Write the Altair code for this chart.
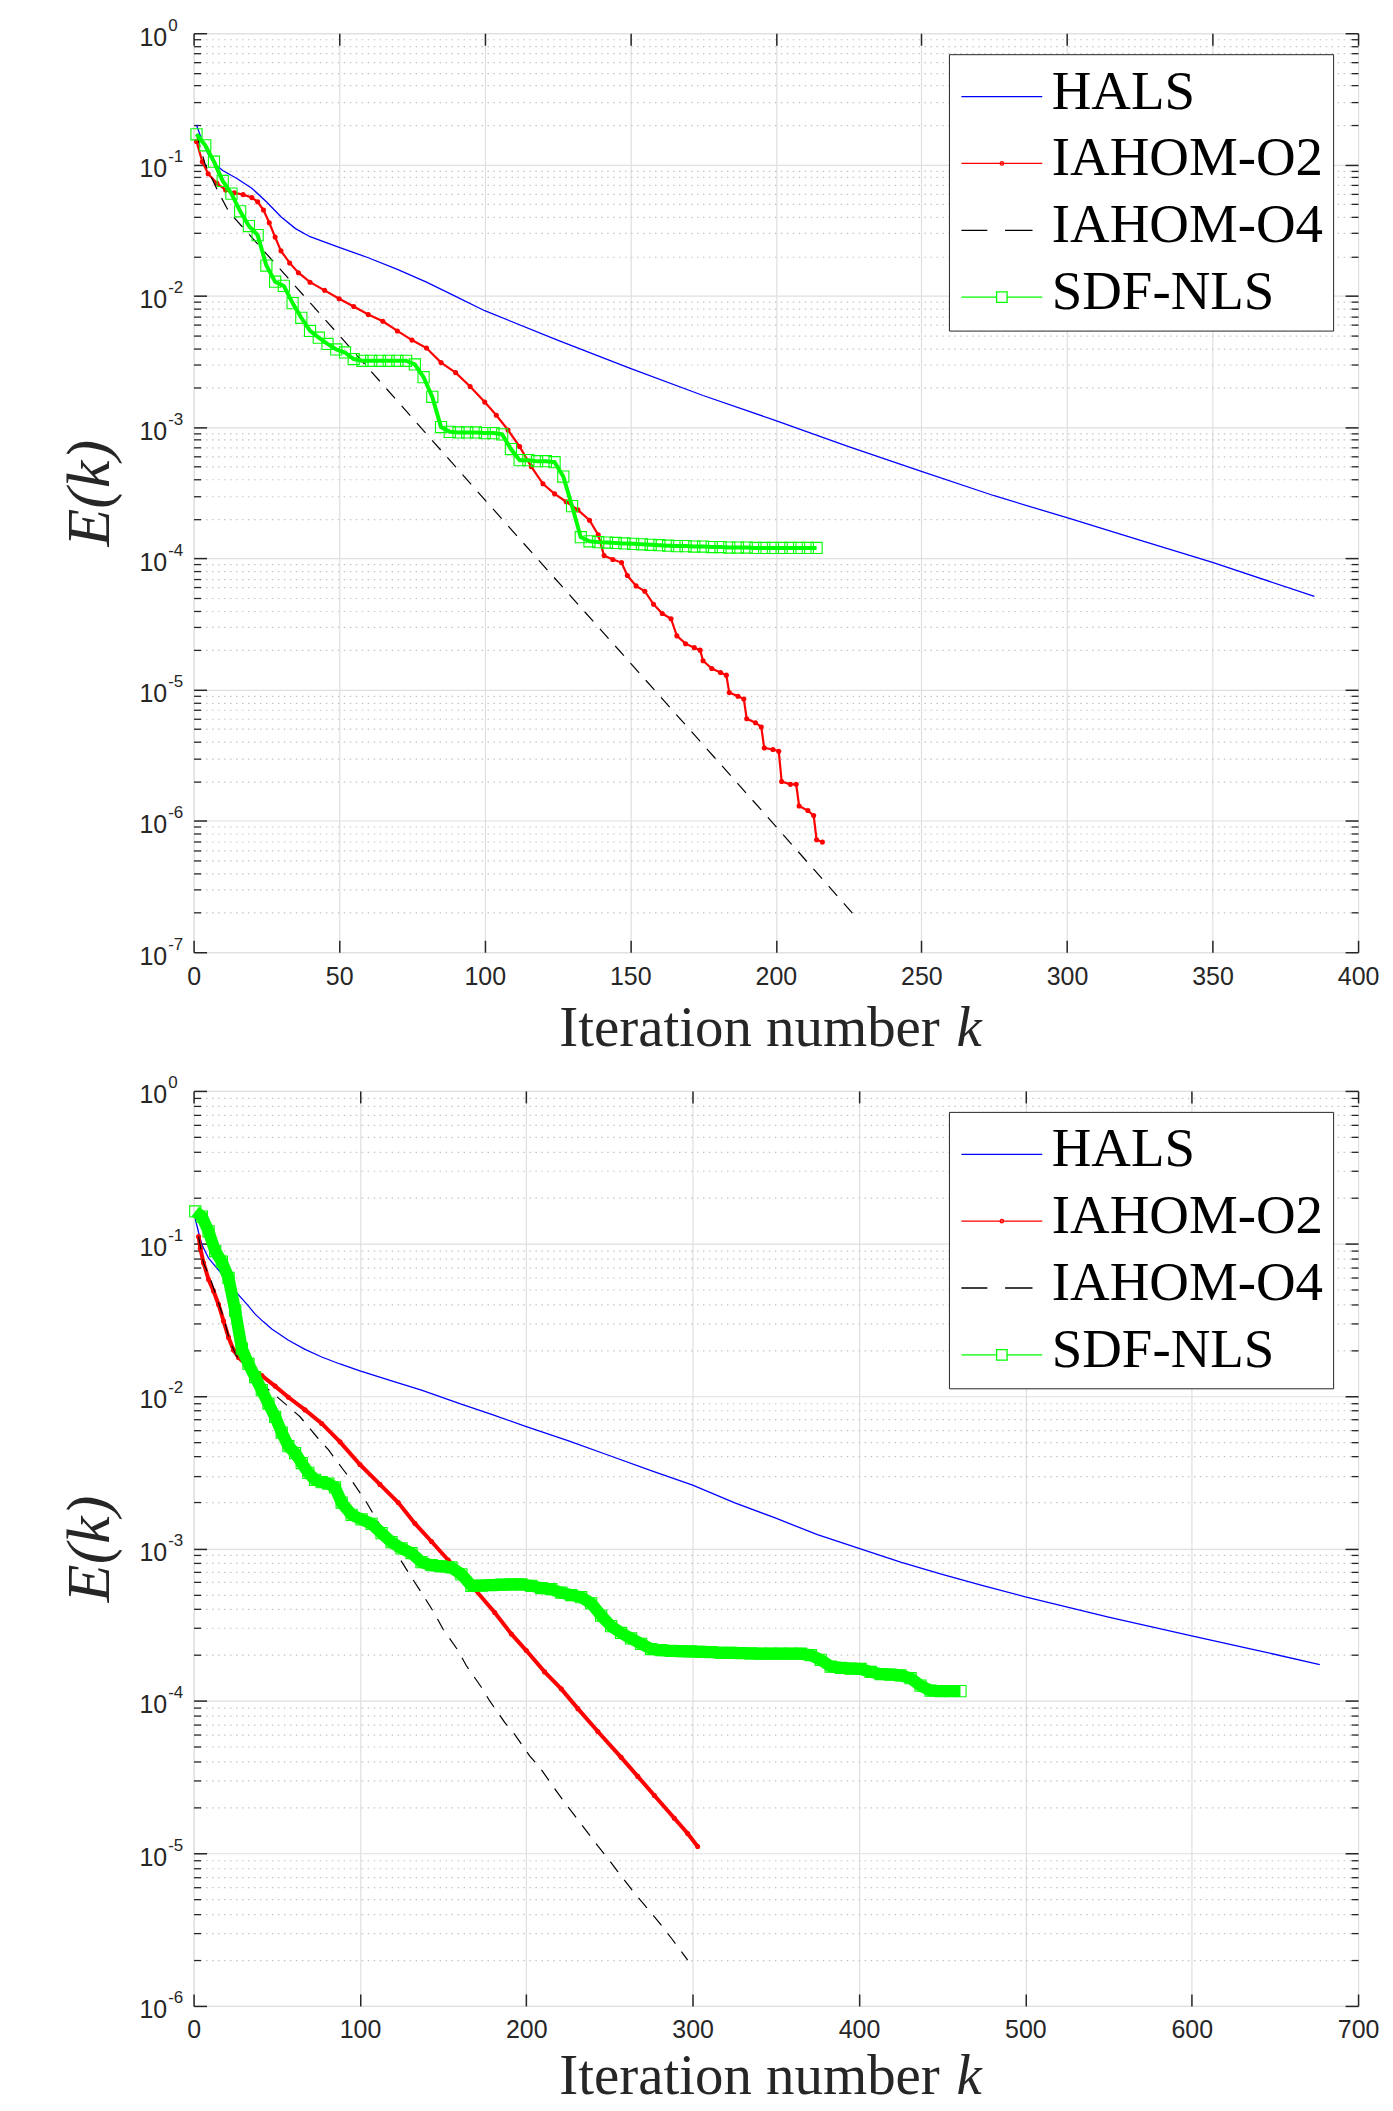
import altair as alt
import pandas as pd

# ---------------- data: top panel ----------------
TOP_HALS_K = [1, 3, 5, 8, 10, 15, 20, 25, 30, 35, 40, 50, 60, 70, 80, 90, 100, 125, 150, 175, 200,
              225, 250, 275, 300, 325, 350, 385]
TOP_HALS_E = [0.20, 0.15, 0.12, 0.098, 0.090, 0.078, 0.066, 0.052, 0.040, 0.0325, 0.0282, 0.0234,
              0.0195, 0.0159, 0.0127, 0.0099, 0.0077, 0.0046, 0.0028, 0.00174, 0.00112, 0.00071,
              0.00046, 0.00030, 0.000204, 0.000138, 0.0000933, 0.0000513]

TOP_O2_K = [1, 3, 5, 8, 11, 14, 17, 20, 22, 24, 26, 28, 30, 33, 36, 40, 45, 50, 55, 60, 65, 70,
            75, 80, 85, 90, 95, 100, 104, 108, 112, 116, 120, 124, 128, 132, 136, 139, 141, 144,
            147, 149, 152, 155, 158, 161, 164, 166, 169, 172, 174, 175, 178, 181, 183, 184, 187,
            189, 190, 193, 195, 196, 199, 201, 202, 205, 207, 208, 211, 213, 214, 216]
TOP_O2_E = [0.15, 0.105, 0.085, 0.072, 0.064, 0.061, 0.059, 0.056, 0.052, 0.045, 0.036, 0.028,
            0.022, 0.0178, 0.0150, 0.0127, 0.0110, 0.0095, 0.0083, 0.0072, 0.0064, 0.0054, 0.0046,
            0.0040, 0.0031, 0.0026, 0.00204, 0.00155, 0.00123, 0.00095, 0.00071, 0.00050, 0.00037,
            0.00031, 0.00027, 0.000234, 0.000195, 0.000151, 0.000105, 0.000098, 0.000093,
            0.000074, 0.0000617, 0.0000562, 0.0000447, 0.000038, 0.0000347, 0.0000257, 0.0000224,
            0.0000209, 0.00002, 0.0000166, 0.0000145, 0.0000135, 0.0000129, 0.0000095, 0.0000089,
            0.0000085, 0.0000060, 0.0000056, 0.0000052, 0.0000036, 0.0000035, 0.0000034,
            0.0000020, 0.0000019, 0.0000019, 0.0000013, 0.0000012, 0.0000011, 7.2e-7, 6.9e-7]

TOP_O4_K = [1, 4, 8, 12, 50, 100, 150, 200, 228]
TOP_O4_E = [0.17, 0.10, 0.065, 0.044, 0.0050, 0.00028, 0.000016, 9.1e-7, 1.8e-7]

TOP_SDF_K = list(range(1, 215, 3))
TOP_SDF_E = [0.170, 0.140, 0.105, 0.075, 0.060, 0.044, 0.034, 0.029, 0.017, 0.0128,
             0.0119, 0.0088, 0.0068, 0.0054, 0.0048, 0.0043, 0.0039, 0.0037, 0.0033, 0.0032,
             0.0032, 0.0032, 0.0032, 0.0032, 0.0032, 0.0030, 0.0024, 0.0017, 0.0010, 0.00092,
             0.00091, 0.00091, 0.00091, 0.00090, 0.00090, 0.00088, 0.00068, 0.00056, 0.00056, 0.00055,
             0.00055, 0.00054, 0.00042, 0.00025, 0.000145, 0.000135, 0.000133, 0.000132, 0.000131, 0.000130,
             0.000129, 0.000128, 0.000127, 0.000126, 0.000125, 0.000124, 0.000124, 0.000123, 0.000123, 0.000122,
             0.000122, 0.000121, 0.000121, 0.000121, 0.000120, 0.000120, 0.000120, 0.000120, 0.000120, 0.000120,
             0.000120, 0.000120]

# ---------------- data: bottom panel ----------------
BOT_HALS_K = [1, 3, 5, 9, 13, 17, 22, 27, 32, 37, 42, 47, 57, 67, 77, 88, 100, 120, 137, 160,
              180, 200, 225, 249, 275, 300, 325, 350, 375, 400, 425, 450, 475, 500, 550, 600, 640, 677]
BOT_HALS_E = [0.145, 0.118, 0.098, 0.080, 0.071, 0.063, 0.054, 0.046, 0.040, 0.0344,
              0.0306, 0.0275, 0.0232, 0.0202, 0.0180, 0.0162, 0.0146, 0.01245, 0.0109, 0.0089,
              0.0075, 0.0063, 0.0051, 0.0041, 0.00324, 0.0026, 0.0020, 0.00158, 0.00123, 0.0010,
              0.000813, 0.000676, 0.000569, 0.000481, 0.000355, 0.000267, 0.000214, 0.000173]

BOT_O2_K = [3, 4, 6, 9, 12, 15, 18, 21, 24, 27, 33, 41, 49, 57, 67, 77, 88, 100, 112, 123,
            133, 143, 153, 161, 169, 181, 191, 200, 211, 221, 231, 243, 257, 267, 277, 289, 297, 303]
BOT_O2_E = [0.111, 0.093, 0.0745, 0.058, 0.0488, 0.0398, 0.031, 0.0242, 0.020, 0.0179,
            0.0155, 0.0136, 0.0116, 0.0098, 0.0081, 0.0066, 0.0050, 0.00355, 0.00263, 0.0020,
            0.00146, 0.00111, 0.00084, 0.00068, 0.00054, 0.00038, 0.000275, 0.000214, 0.000155, 0.00012,
            0.000089, 0.000063, 0.0000427, 0.000032, 0.000024, 0.000017, 0.0000135, 0.0000111]

BOT_O4_K = [3, 6, 10, 14, 18, 22, 26, 30, 36, 43, 56, 64, 74, 81, 90, 96, 104, 123, 131, 137,
            145, 150, 159, 164, 173, 178, 187, 193, 202, 209, 218, 224, 243, 249, 255, 265, 271, 281, 287, 297]
BOT_O4_E = [0.111, 0.074, 0.0594, 0.0437, 0.0327, 0.0224, 0.0182, 0.0158, 0.0135, 0.0115,
            0.0087, 0.0073, 0.0054, 0.00444, 0.00328, 0.00269, 0.0020, 0.00089, 0.000646, 0.000513,
            0.000372, 0.000295, 0.000214, 0.00017, 0.000123, 0.0001, 0.0000724, 0.0000603, 0.0000437, 0.0000355,
            0.0000257, 0.0000209, 0.0000112, 0.0000093, 0.0000076, 0.0000055, 0.0000046, 0.0000034, 0.0000028, 0.0000020]

BOT_SDF_K = list(range(1, 90, 4)) + list(range(95, 462, 6))
BOT_SDF_E = [0.162, 0.150, 0.120, 0.0891, 0.0759, 0.0594, 0.0363, 0.0204, 0.0162, 0.0133,
             0.0109, 0.00891, 0.00730, 0.00575, 0.00468, 0.00422, 0.00363, 0.00313, 0.00282, 0.00272,
             0.00266, 0.00251, 0.00200,
             0.00166, 0.00155, 0.00145, 0.00126, 0.00110, 0.00100, 0.000933, 0.000813, 0.000776, 0.000764,
             0.000750, 0.000676, 0.000569, 0.000571, 0.000575, 0.000578, 0.000581, 0.000581, 0.000569, 0.000550,
             0.000540, 0.000513, 0.000495, 0.000479, 0.000437, 0.000363, 0.000309, 0.000279, 0.000257, 0.000237,
             0.000219, 0.000215, 0.000213, 0.000212, 0.000211, 0.000210, 0.000209, 0.000207, 0.000207, 0.000206,
             0.000205, 0.000204, 0.000204, 0.000204, 0.000204, 0.000204, 0.000200, 0.000186, 0.000168, 0.000165,
             0.000163, 0.000162, 0.000155, 0.000150, 0.000149, 0.000147, 0.000141, 0.000126, 0.000117, 0.000116,
             0.000116, 0.000116]

SERIES = ["HALS", "IAHOM-O2", "IAHOM-O4", "SDF-NLS"]
COLORS = ["#0000ff", "#ff0000", "#000000", "#00ff00"]
# legend samples (custom symbol paths: line + marker)
LEGEND_PATHS = [
    "M-1,0.2L2.24,0.2",
    "M-1,0.2L2.24,0.2M0.69,0.2A0.07,0.07,0,1,1,0.55,0.2A0.07,0.07,0,1,1,0.69,0.2",
    "M-1,0.2L0.04,0.2M0.75,0.2L1.85,0.2",
    "M-1,0.2L0.41,0.2M0.83,0.2L2.24,0.2M0.41,-0.01L0.83,-0.01L0.83,0.41L0.41,0.41Z",
]

# ---------------- style ----------------
W = 1167
AX = "#262626"
TICK_FONT = "Liberation Sans"
TEXT_FONT = "Liberation Serif"
MAJOR_GRID = "#dfdfdf"
MINOR_GRID = "#c4c4c4"


def df(k, e):
    return pd.DataFrame({"k": k, "E": e})


def panel(hals, o2, o4, sdf, xmax, xstep, emin, height, red_width, sdf_band, title_y):
    xticks = list(range(0, xmax + 1, xstep))
    decades = [10.0 ** e for e in range(emin, 1)]
    minor = [m * 10.0 ** e for e in range(emin, 0) for m in range(2, 10)]
    xs = alt.Scale(domain=[0, xmax], nice=False, zero=False)
    ys = alt.Scale(type="log", domain=[10.0 ** emin, 1], nice=False)

    common_lab = dict(labelFont=TICK_FONT, labelFontSize=25, labelColor=AX, labelOverlap=False,
                      labelFlush=False)
    # x axes
    ax_x_main = alt.Axis(orient="bottom", values=xticks, grid=True, gridColor=MAJOR_GRID, gridWidth=1.2,
                         domain=False, ticks=False, labelPadding=12, format="d", **common_lab,
                         title="Iteration number", titleFont=TEXT_FONT, titleFontSize=57,
                         titleFontWeight="normal", titleColor=AX, titleAlign="left",
                         titleBaseline="alphabetic", titleX=366, titleY=title_y)
    ax_x_ticks = alt.Axis(orient="bottom", values=xticks, grid=False, domain=False, labels=False,
                          ticks=True, tickSize=12, tickColor=AX, tickWidth=1.5, offset=-12,
                          title="k", titleFont=TEXT_FONT, titleFontSize=57, titleFontStyle="italic",
                          titleFontWeight="normal", titleColor=AX, titleAlign="left",
                          titleBaseline="alphabetic", titleX=764, titleY=title_y + 12)
    ax_x_top = alt.Axis(orient="top", values=xticks, grid=False, domain=False, labels=False,
                        ticks=True, tickSize=12, tickColor=AX, tickWidth=1.5, offset=-12, title=None)
    # y axes
    ax_y_base = alt.Axis(orient="left", values=decades, grid=True, gridColor=MAJOR_GRID, gridWidth=1.2,
                         domain=False, ticks=False, labelExpr="'10'", labelPadding=27,
                         labelAlign="right", labelBaseline="middle", labelOffset=4, **common_lab,
                         title="E(k)", titleFont=TEXT_FONT, titleFontSize=62, titleFontStyle="italic",
                         titleFontWeight="normal", titleColor=AX, titleAngle=270, titleX=-104,
                         titleY=height / 2, titleAlign="center", titleBaseline="middle")
    ax_y_exp = alt.Axis(orient="left", values=decades, grid=False, domain=False, ticks=False,
                        labelExpr="'' + round(log(datum.value) / LN10)", labelPadding=26,
                        labelAlign="left", labelBaseline="middle", labelOffset=-8,
                        labelFont=TICK_FONT, labelFontSize=17, labelColor=AX, labelOverlap=False,
                        labelFlush=False, title=None)
    ax_y_lmaj = alt.Axis(orient="left", values=decades, grid=False, domain=False, labels=False,
                         ticks=True, tickSize=13, tickColor=AX, tickWidth=1.5, offset=-13, title=None)
    ax_y_lmin = alt.Axis(orient="left", values=minor, grid=False, domain=False, labels=False,
                         ticks=True, tickSize=7, tickColor=AX, tickWidth=1.3, offset=-7, title=None)
    ax_y_rmaj = alt.Axis(orient="right", values=decades, grid=False, domain=False, labels=False,
                         ticks=True, tickSize=13, tickColor=AX, tickWidth=1.5, offset=-13, title=None)
    ax_y_rmin = alt.Axis(orient="right", values=minor, grid=False, domain=False, labels=False,
                         ticks=True, tickSize=7, tickColor=AX, tickWidth=1.3, offset=-7, title=None)
    ax_y_mgrid = alt.Axis(orient="left", values=minor, grid=True, gridColor=MINOR_GRID, gridWidth=1.2,
                          gridDash=[1.5, 4.5], domain=False, ticks=False, labels=False, title=None)

    def enc(xa, ya):
        return dict(x=alt.X("k:Q", scale=xs, axis=xa), y=alt.Y("E:Q", scale=ys, axis=ya))

    l_hals = alt.Chart(hals).mark_line(color=COLORS[0], strokeWidth=1.3).encode(**enc(ax_x_main, ax_y_base))
    l_o2 = alt.Chart(o2).mark_line(color=COLORS[1], strokeWidth=red_width).encode(**enc(ax_x_ticks, ax_y_exp))
    p_o2 = alt.Chart(o2).mark_point(shape="circle", filled=True, size=26, color=COLORS[1],
                                    opacity=1).encode(**enc(ax_x_top, ax_y_lmaj))
    l_o4 = alt.Chart(o4).mark_line(color=COLORS[2], strokeWidth=1.2, strokeDash=[13, 10]).encode(
        **enc(None, ax_y_lmin))
    l_sdf = alt.Chart(sdf).mark_line(color=COLORS[3], strokeWidth=sdf_band).encode(**enc(None, ax_y_rmaj))
    p_sdf = alt.Chart(sdf).mark_point(shape="square", filled=False, size=125, strokeWidth=1.1,
                                      color=COLORS[3], opacity=1).encode(**enc(None, ax_y_rmin))

    leg = alt.Legend(orient="none", legendX=757, legendY=21, title=None, labelFont=TEXT_FONT,
                     labelFontSize=55, labelColor="black", labelLimit=600, symbolSize=2500,
                     symbolStrokeWidth=1.3, labelOffset=38, rowPadding=11, padding=10,
                     strokeColor=AX, fillColor="white", cornerRadius=0)
    leg_df = pd.DataFrame({"series": SERIES, "k": [-1, -1, -1, -1], "E": [0.5, 0.5, 0.5, 0.5]})
    legend_layer = alt.Chart(leg_df).transform_filter("datum.k >= 0").mark_point(
        filled=False, opacity=1, strokeWidth=1.3).encode(
        **enc(None, ax_y_mgrid),
        color=alt.Color("series:N", scale=alt.Scale(domain=SERIES, range=COLORS), legend=leg),
        shape=alt.Shape("series:N", scale=alt.Scale(domain=SERIES, range=LEGEND_PATHS), legend=leg),
    )

    return alt.layer(l_hals, l_o2, p_o2, l_o4, l_sdf, p_sdf, legend_layer).resolve_axis(
        x="independent", y="independent").properties(width=W, height=height)


top = panel(df(TOP_HALS_K, TOP_HALS_E), df(TOP_O2_K, TOP_O2_E), df(TOP_O4_K, TOP_O4_E),
            df(TOP_SDF_K, TOP_SDF_E), 400, 50, -7, 921, 2.2, 4, 93)
bottom = panel(df(BOT_HALS_K, BOT_HALS_E), df(BOT_O2_K, BOT_O2_E), df(BOT_O4_K, BOT_O4_E),
               df(BOT_SDF_K, BOT_SDF_E), 700, 100, -6, 917, 4.0, 12, 88)

chart = alt.vconcat(top, bottom, spacing=139, bounds="flush").resolve_scale(
    color="independent", shape="independent").properties(
    padding={"left": 50, "top": 5, "right": 5, "bottom": 5}).configure_view(
    stroke=AX, strokeWidth=1.5).configure(background="white")

chart.save("out.html", embed_options={"renderer": "svg", "actions": False})
